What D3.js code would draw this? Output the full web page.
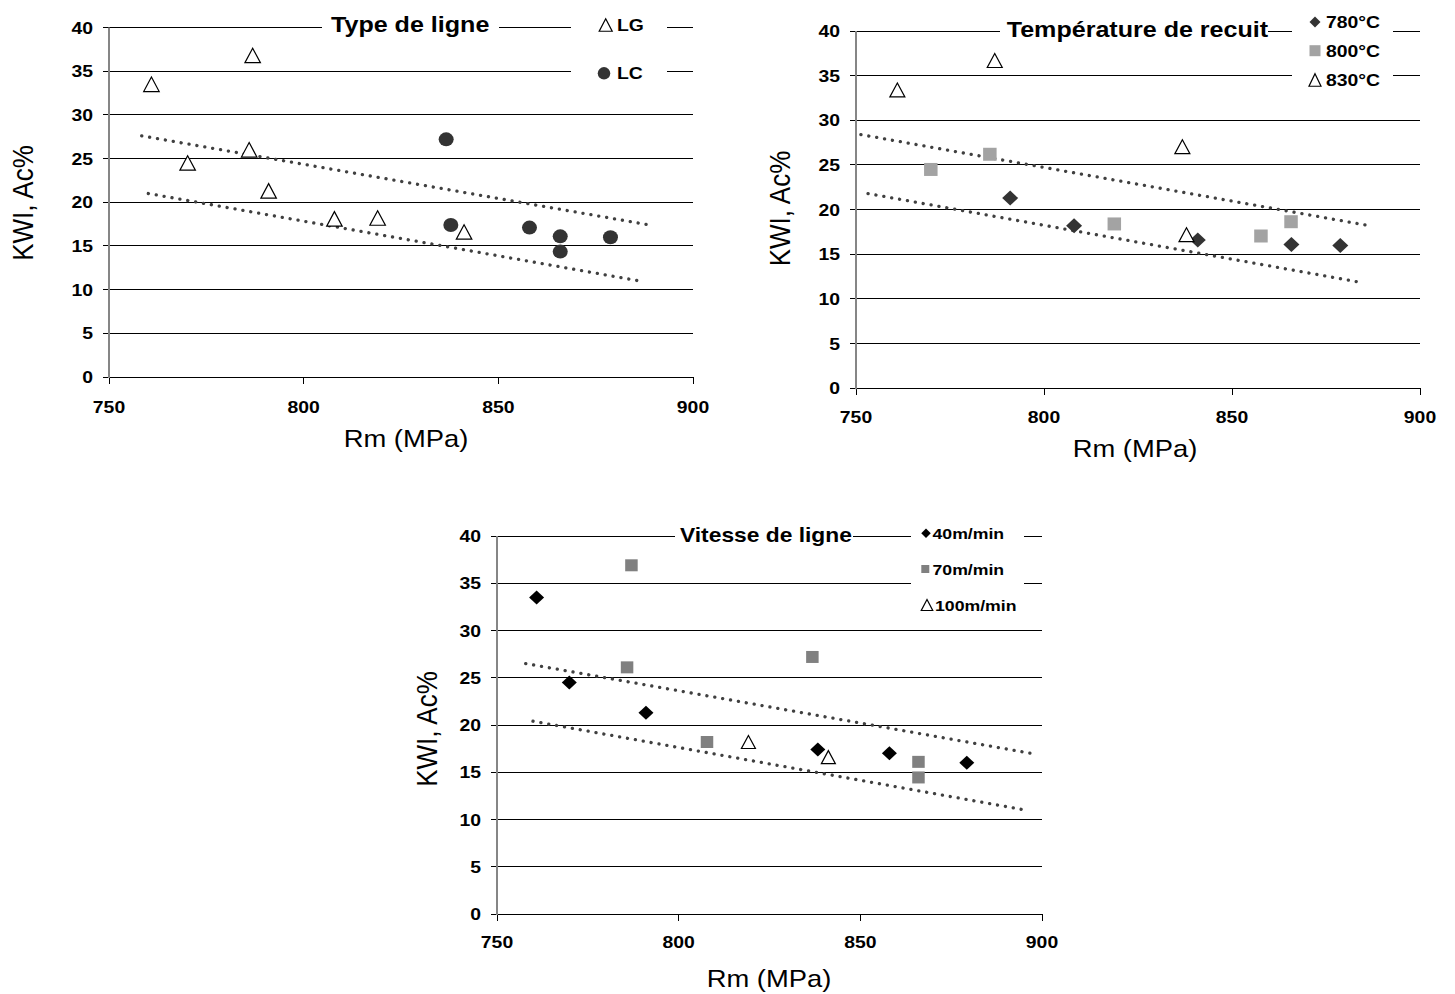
<!DOCTYPE html>
<html><head><meta charset="utf-8">
<script src="https://cdn.jsdelivr.net/npm/d3@7"></script>
<style>body{margin:0;background:#fff}svg{display:block}text{font-family:"Liberation Sans",Arial,sans-serif}</style>
</head><body><svg id="c" width="1455" height="994"></svg>
<script>
// ---------- data ----------
const xTicks = [750, 800, 850, 900];
const yTicks = [0, 5, 10, 15, 20, 25, 30, 35, 40];
const xTitle = "Rm (MPa)";
const yTitle = "KWI, Ac%";

// Chart 1 : Type de ligne
const lgData = [[760.9,33.5],[786.9,36.8],[770.2,24.5],[786.0,26.0],[791.0,21.3],[807.9,18.1],[819.0,18.2],[841.2,16.6]];
const lcData = [[836.6,27.2],[837.8,17.4],[858.0,17.1],[865.9,16.1],[865.9,14.35],[878.8,16.0]];
const trend1Upper = [[758.4,27.6],[888.8,17.4]];
const trend1Lower = [[760.1,21.0],[886.8,10.95]];

// Chart 2 : Température de recuit
const t780Data = [[791.0,21.3],[808.0,18.2],[840.9,16.6],[865.8,16.1],[878.8,16.0]];
const t800Data = [[769.9,24.5],[785.6,26.2],[818.7,18.4],[857.7,17.05],[865.7,18.65]];
const t830Data = [[761.0,33.4],[786.9,36.7],[836.8,27.05],[837.9,17.2]];
const trend2Upper = [[751.3,28.4],[885.9,18.25]];
const trend2Lower = [[753.2,21.8],[883.7,11.9]];

// Chart 3 : Vitesse de ligne
const v40Data = [[760.9,33.5],[769.9,24.5],[791.0,21.3],[838.3,17.4],[858.0,17.0],[879.3,16.0]];
const v70Data = [[787.0,36.9],[785.8,26.1],[807.8,18.2],[836.8,27.2],[866.0,16.1],[866.0,14.45]];
const v100Data = [[819.2,18.2],[841.2,16.6]];
const trend3Upper = [[757.9,26.5],[897.7,16.95]];
const trend3Lower = [[759.9,20.4],[895.4,11.0]];

// ---------- layout / style ----------
const SX = 1.14; // horizontal stretch of text in the reference
const svg = d3.select("#c");

function shapePath(type, w, h) {
  if (type === "triangle") return `M0,${-h/2}L${w/2},${h/2}L${-w/2},${h/2}Z`;
  if (type === "diamond") return `M0,${-h/2}L${w/2},0L0,${h/2}L${-w/2},0Z`;
  if (type === "square") return `M${-w/2},${-h/2}H${w/2}V${h/2}H${-w/2}Z`;
  return `M${-w/2},0A${w/2},${h/2} 0 1,0 ${w/2},0A${w/2},${h/2} 0 1,0 ${-w/2},0Z`;
}
function styleOf(s){ return s.open ? {fill:"#fff", stroke:"#000", sw:1.2} : {fill:s.color, stroke:"none", sw:0}; }

function stretchedText(g, x, y, str, size, anchor, weight) {
  g.append("text")
    .attr("transform", `translate(${x},${y}) scale(${SX},1)`)
    .attr("text-anchor", anchor).attr("font-size", size)
    .attr("font-weight", weight).attr("fill", "#000").text(str);
}

const charts = [
  { left:109, right:693, top:27.5, bottom:377,
    title:"Type de ligne", titleX:331, titleBase:31.8, titleSize:22, titleRect:[322,499,10,40],
    legendRect:[571,667,8,100], legendSize:17,
    series:[
      {name:"LG", data:lgData, type:"triangle", open:true, w:15.5, h:14.5, lx:605.7, ly:25, lw:13, lh:12.5, tx:617},
      {name:"LC", data:lcData, type:"circle", color:"#333", w:15, h:14, lx:604, ly:73.3, lw:12.5, lh:12.5, tx:617}],
    trends:[trend1Upper, trend1Lower],
    xLabOff:36, xTitleX:406, xTitleOff:70, yTitleX:33.3, yTitleY:203 },
  { left:856, right:1420, top:31, bottom:388.3,
    title:"Température de recuit", titleX:1006.7, titleBase:36.7, titleSize:22, titleRect:[1000,1268,14,44],
    legendRect:[1292,1393,6,100], legendSize:17,
    series:[
      {name:"780°C", data:t780Data, type:"diamond", color:"#333", w:16, h:15, lx:1315, ly:22, lw:11, lh:11, tx:1326},
      {name:"800°C", data:t800Data, type:"square", color:"#a3a3a3", w:13.5, h:13, lx:1315, ly:50.7, lw:11, lh:11, tx:1326},
      {name:"830°C", data:t830Data, type:"triangle", open:true, w:15, h:14, lx:1315, ly:80, lw:12, lh:12.5, tx:1326}],
    trends:[trend2Upper, trend2Lower],
    xLabOff:34.5, xTitleX:1135, xTitleOff:68.5, yTitleX:790.4, yTitleY:208.5 },
  { left:497, right:1042, top:536, bottom:914,
    title:"Vitesse de ligne", titleX:680, titleBase:541.7, titleSize:20, titleRect:[675,853,522,550],
    legendRect:[911,1024,518,622], legendSize:15.5,
    series:[
      {name:"40m/min", data:v40Data, type:"diamond", color:"#000", w:15, h:14, lx:926, ly:533.3, lw:9.5, lh:9.5, tx:932.5},
      {name:"70m/min", data:v70Data, type:"square", color:"#808080", w:12.5, h:12, lx:925.3, ly:569, lw:8, lh:8, tx:932.5},
      {name:"100m/min", data:v100Data, type:"triangle", open:true, w:14, h:13, lx:927, ly:605, lw:11.5, lh:11, tx:935}],
    trends:[trend3Upper, trend3Lower],
    xLabOff:34, xTitleX:769, xTitleOff:72.5, yTitleX:437, yTitleY:729 }
];

charts.forEach(c => {
  const g = svg.append("g");
  const x = d3.scaleLinear().domain([750, 900]).range([c.left, c.right]);
  const y = d3.scaleLinear().domain([0, 40]).range([c.bottom, c.top]);

  g.append("g").selectAll("line").data(yTicks).join("line")
    .attr("x1", c.left - 6).attr("x2", c.right)
    .attr("y1", d => y(d)).attr("y2", d => y(d))
    .attr("stroke", "#000").attr("stroke-width", 1).attr("shape-rendering","crispEdges");
  g.append("g").selectAll("line").data(xTicks).join("line")
    .attr("x1", d => x(d)).attr("x2", d => x(d))
    .attr("y1", c.bottom).attr("y2", c.bottom + 7)
    .attr("stroke", "#000").attr("stroke-width", 1).attr("shape-rendering","crispEdges");
  g.append("line").attr("x1", c.left).attr("x2", c.left).attr("y1", c.top).attr("y2", c.bottom + 1)
    .attr("stroke", "#868686").attr("stroke-width", 2);

  yTicks.forEach(t => stretchedText(g, c.left - 16, y(t) + 6.1, t, 17, "end", "bold"));
  xTicks.forEach(t => stretchedText(g, x(t), c.bottom + c.xLabOff, t, 17, "middle", "bold"));

  stretchedText(g, c.xTitleX, c.bottom + c.xTitleOff, xTitle, 24, "middle", "normal");
  g.append("text")
    .attr("transform", `translate(${c.yTitleX},${c.yTitleY}) scale(${SX},1) rotate(-90)`)
    .attr("text-anchor", "middle").attr("font-size", 26).attr("fill", "#000").text(yTitle);

  const line = d3.line().x(d => x(d[0])).y(d => y(d[1]));
  c.trends.forEach(tr => {
    g.append("path").attr("d", line(tr)).attr("fill", "none")
      .attr("stroke", "#404040").attr("stroke-width", 3.3)
      .attr("stroke-linecap", "round").attr("stroke-dasharray", "0.1 7.9");
  });

  const tr = c.titleRect;
  g.append("rect").attr("x", tr[0]).attr("y", tr[2]).attr("width", tr[1]-tr[0]).attr("height", tr[3]-tr[2]).attr("fill", "#fff");
  stretchedText(g, c.titleX, c.titleBase, c.title, c.titleSize, "start", "bold");

  const lr = c.legendRect;
  g.append("rect").attr("x", lr[0]).attr("y", lr[2]).attr("width", lr[1]-lr[0]).attr("height", lr[3]-lr[2]).attr("fill", "#fff");
  c.series.forEach(s => {
    const st = styleOf(s);
    g.append("path").attr("d", shapePath(s.type, s.lw, s.lh))
      .attr("transform", `translate(${s.lx},${s.ly})`)
      .attr("fill", st.fill).attr("stroke", st.stroke).attr("stroke-width", st.sw);
    stretchedText(g, s.tx, s.ly + 0.358 * c.legendSize, s.name, c.legendSize, "start", "bold");
  });

  c.series.forEach(s => {
    const st = styleOf(s);
    g.append("g").selectAll("path").data(s.data).join("path")
      .attr("d", shapePath(s.type, s.w, s.h))
      .attr("transform", d => `translate(${x(d[0])},${y(d[1])})`)
      .attr("fill", st.fill).attr("stroke", st.stroke).attr("stroke-width", st.sw);
  });
});
</script></body></html>
